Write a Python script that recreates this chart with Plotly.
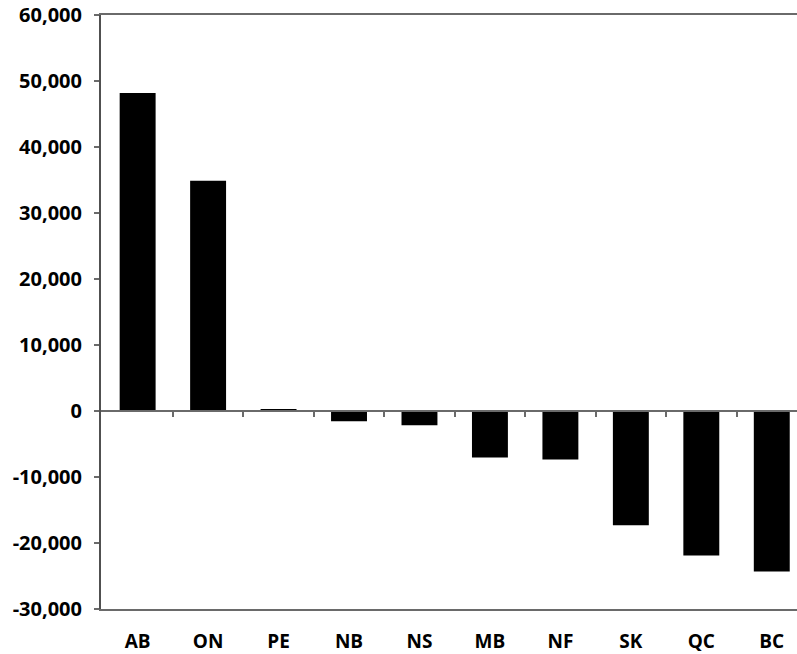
import plotly.graph_objects as go

provinces = ["AB", "ON", "PE", "NB", "NS", "MB", "NF", "SK", "QC", "BC"]
values = [48200, 34900, 250, -1550, -2150, -7050, -7350, -17300, -21900, -24300]
y_ticks = [60000, 50000, 40000, 30000, 20000, 10000, 0, -10000, -20000, -30000]
y_tick_labels = [f"{v:,}" for v in y_ticks]

ymin, ymax = -30000, 60000
n = len(provinces)
x_range = [-0.52, n - 0.5 - 0.142]
boundaries = [i - 0.5 for i in range(1, n)]

font_family = "Open Sans"
axis_col = "#6a6a6a"

fig = go.Figure()
fig.add_trace(go.Bar(
    x=list(range(n)), y=values,
    marker=dict(color="black", line=dict(width=0)),
    width=0.51,
))
# invisible trace to activate zero-line axis
fig.add_trace(go.Scatter(x=[0], y=[0], xaxis="x2", mode="markers",
                         marker=dict(opacity=0), hoverinfo="skip", showlegend=False))

fig.update_layout(
    width=797, height=654,
    margin=dict(l=101, r=0, t=15, b=45, autoexpand=False),
    paper_bgcolor="white", plot_bgcolor="white",
    showlegend=False,
    xaxis=dict(
        range=x_range,
        tickmode="array", tickvals=list(range(n)), ticktext=provinces,
        showgrid=False, zeroline=False,
        showline=True, linecolor=axis_col, linewidth=1.5, mirror=True,
        ticks="", ticklabelstandoff=14,
        tickfont=dict(family=font_family, size=19, color="black", weight="bold"),
    ),
    xaxis2=dict(
        range=x_range, overlaying="x", anchor="free",
        position=(0 - ymin) / (ymax - ymin),
        tickmode="array", tickvals=boundaries, showticklabels=False,
        ticks="outside", ticklen=5, tickwidth=1.5, tickcolor=axis_col,
        showline=True, linecolor=axis_col, linewidth=1.5,
        showgrid=False, zeroline=False,
    ),
    yaxis=dict(
        range=[ymin, ymax],
        tickmode="array", tickvals=y_ticks, ticktext=y_tick_labels,
        showgrid=False, zeroline=False,
        showline=True, linecolor="#505050", linewidth=2,
        ticks="outside", ticklen=5, tickwidth=1.5, tickcolor=axis_col,
        ticklabelstandoff=8,
        tickfont=dict(family=font_family, size=20, color="black", weight="bold"),
    ),
)

fig.write_html(
    "out.html",
    config={"displayModeBar": False},
    post_script="document.body.style.margin='0';document.body.style.overflow='hidden';",
)
